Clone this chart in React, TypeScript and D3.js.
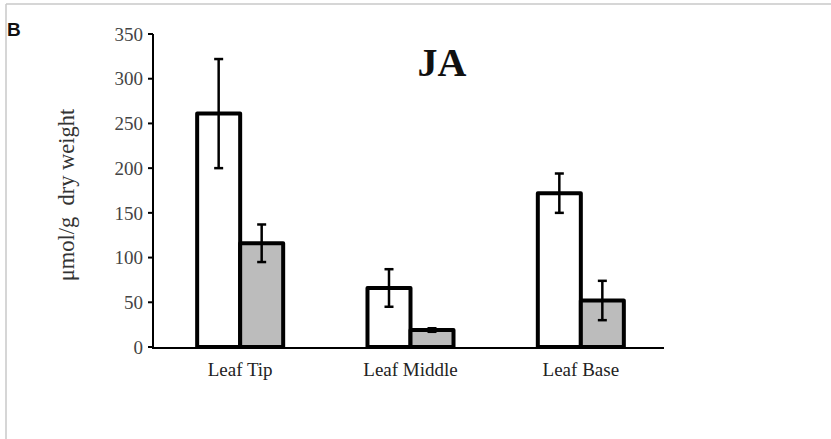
import React from 'react'
import * as d3 from 'd3'

const categories = ['Leaf Tip', 'Leaf Middle', 'Leaf Base']
const groups = ['control', 'treated']
const controlValues = [261, 66, 172]
const controlErrors = [61, 21, 22]
const treatedValues = [116, 19, 52]
const treatedErrors = [21, 2, 22]
const yTicks = [0, 50, 100, 150, 200, 250, 300, 350]

const W = 831
const H = 439
const left = 153
const right = 664
const top = 34
const bottom = 347

const App = () => {
  const y = d3.scaleLinear().domain([0, 350]).range([bottom, top])
  const x = d3.scaleBand().domain(categories).range([left + 2, right + 2]).paddingInner(0.495).paddingOuter(0.2475)
  const xSub = d3.scaleBand().domain(groups).range([0, x.bandwidth()])

  const bars = categories.flatMap((c, i) => [
    {cat: c, group: 'control', value: controlValues[i], err: controlErrors[i], fill: '#ffffff'},
    {cat: c, group: 'treated', value: treatedValues[i], err: treatedErrors[i], fill: '#bcbcbc'},
  ])

  return (
    <svg width={W} height={H} style={{position: 'absolute', left: 0, top: 0}}>
      <rect x={0} y={0} width={W} height={H} fill="#fff" />
      {/* frame */}
      <line x1={6} y1={4} x2={W} y2={4} stroke="#c8c8c8" strokeWidth={1.5} />
      <line x1={6} y1={4} x2={6} y2={H} stroke="#c8c8c8" strokeWidth={1.5} />

      <text x={7} y={36} fontFamily="Liberation Sans, Arial" fontWeight="bold" fontSize={19} fill="#111">B</text>
      <text x={442} y={76} textAnchor="middle" fontFamily="Liberation Serif, Times New Roman" fontWeight="bold" fontSize={40} fill="#111">JA</text>

      <text
        transform={`translate(74, ${195}) rotate(-90)`}
        textAnchor="middle"
        fontFamily="Liberation Serif, Times New Roman"
        fontSize={22.5}
        fill="#333"
        xmlSpace="preserve"
      >
        μmol/g  dry weight
      </text>

      {/* y axis */}
      <line x1={left} y1={top} x2={left} y2={bottom + 1} stroke="#000" strokeWidth={2} />
      {yTicks.map((t) => (
        <g key={t}>
          <line x1={left - 5} x2={left} y1={y(t)} y2={y(t)} stroke="#000" strokeWidth={2} />
          <text x={143} y={y(t)} dy="0.35em" textAnchor="end" fontFamily="Liberation Serif, Times New Roman" fontSize={19} fill="#444">{t}</text>
        </g>
      ))}

      {bars.map((b, i) => {
        const bx = (x(b.cat) as number) + (xSub(b.group) as number)
        return (
          <rect key={i} x={bx} y={y(b.value)} width={xSub.bandwidth()} height={bottom - y(b.value)}
            fill={b.fill} stroke="#000" strokeWidth={4} strokeLinejoin="round" />
        )
      })}

      {bars.map((b, i) => {
        const cx = (x(b.cat) as number) + (xSub(b.group) as number) + xSub.bandwidth() / 2
        return (
          <g key={'e' + i} stroke="#000" strokeWidth={2.5}>
            <line x1={cx} x2={cx} y1={y(b.value + b.err)} y2={y(b.value - b.err)} />
            <line x1={cx - 4.5} x2={cx + 4.5} y1={y(b.value + b.err)} y2={y(b.value + b.err)} />
            <line x1={cx - 4.5} x2={cx + 4.5} y1={y(b.value - b.err)} y2={y(b.value - b.err)} />
          </g>
        )
      })}

      {/* x axis */}
      <line x1={left - 1} y1={bottom + 1} x2={right} y2={bottom + 1} stroke="#000" strokeWidth={2} />
      {categories.map((c) => (
        <text key={c} x={(x(c) as number) + x.bandwidth() / 2} y={376} textAnchor="middle"
          fontFamily="Liberation Serif, Times New Roman" fontSize={19} fill="#222">{c}</text>
      ))}
    </svg>
  )
}

export default App
